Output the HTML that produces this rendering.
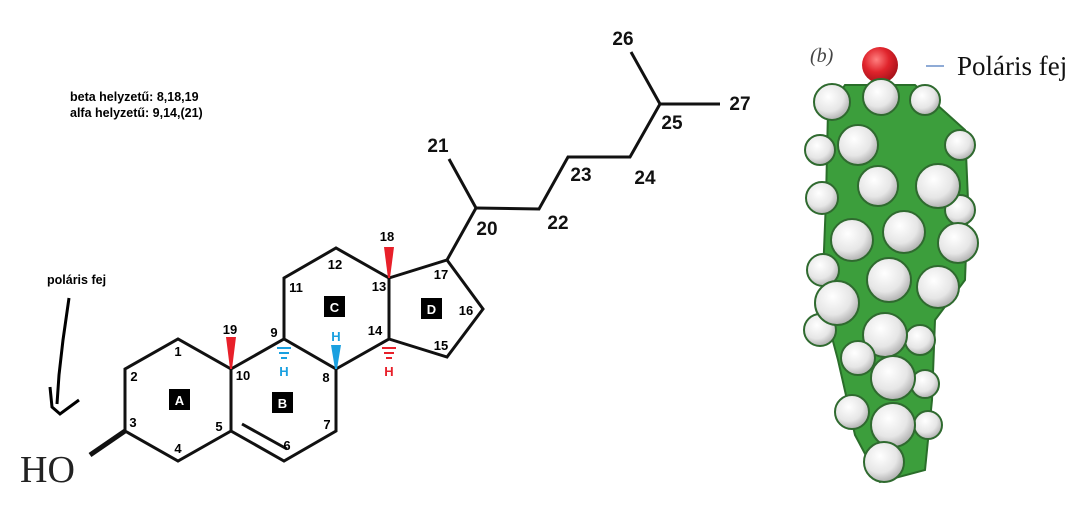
<!DOCTYPE html>
<html><head><meta charset="utf-8"><style>
html,body{margin:0;padding:0;background:#fff;width:1090px;height:506px;overflow:hidden}
svg{display:block}
.l{font-family:"Liberation Sans",sans-serif;font-weight:bold;font-size:13px;fill:#000}
.b{font-family:"Liberation Sans",sans-serif;font-weight:bold;font-size:19px;fill:#111}
</style></head><body>
<svg width="1090" height="506">
<defs>
<radialGradient id="hg" cx="0.4" cy="0.35" r="0.7"><stop offset="0" stop-color="#ffffff"/><stop offset="0.6" stop-color="#e6e6e6"/><stop offset="1" stop-color="#a8a8a8"/></radialGradient>
<radialGradient id="og" cx="0.4" cy="0.35" r="0.7"><stop offset="0" stop-color="#ff8080"/><stop offset="0.5" stop-color="#e0242c"/><stop offset="1" stop-color="#a01018"/></radialGradient>
</defs>
<g stroke="#111" stroke-width="3" fill="none" stroke-linejoin="miter">
<polyline points="231,431 178,461 125,431 125,369 178,339 231,369 231,431 284,461 336,431 336,369 284,339 231,369"/>
<polyline points="284,339 284,278 336,248 389,278 389,339 336,369"/>
<polyline points="389,278 447,260 483,309 447,357 389,339"/>
<line x1="242" y1="424" x2="287" y2="449"/>
<polyline points="447,260 476,208 449,159"/>
<polyline points="476,208 539,209 568,157 630,157 660,104 631,52"/>
<line x1="660" y1="104" x2="720" y2="104"/>
<line x1="90" y1="455" x2="125" y2="431" stroke-width="5"/>
</g>
<g>
<polygon points="226,337 236,337 232,369 230,369" fill="#e8202a"/>
<polygon points="384,247 394,247 390,278 388,278" fill="#e8202a"/>
<polygon points="331,345 341,345 337,369 335,369" fill="#1aa0e0"/>
<g stroke="#1aa0e0" stroke-width="2"><line x1="277" y1="348" x2="291" y2="348"/><line x1="279" y1="353" x2="289" y2="353"/><line x1="281" y1="358" x2="287" y2="358"/></g>
<g stroke="#e8202a" stroke-width="2"><line x1="382" y1="348" x2="396" y2="348"/><line x1="384" y1="353" x2="394" y2="353"/><line x1="386" y1="358" x2="392" y2="358"/></g>
<text x="284" y="376" text-anchor="middle" class="l" style="fill:#1aa0e0">H</text>
<text x="336" y="341" text-anchor="middle" class="l" style="fill:#1aa0e0">H</text>
<text x="389" y="376" text-anchor="middle" class="l" style="fill:#e8202a">H</text>
</g>
<g class="l">
<text x="178" y="356" text-anchor="middle">1</text><text x="134" y="381" text-anchor="middle">2</text>
<text x="133" y="427" text-anchor="middle">3</text><text x="178" y="453" text-anchor="middle">4</text>
<text x="219" y="431" text-anchor="middle">5</text><text x="287" y="450" text-anchor="middle">6</text>
<text x="327" y="429" text-anchor="middle">7</text><text x="326" y="382" text-anchor="middle">8</text>
<text x="274" y="337" text-anchor="middle">9</text><text x="243" y="380" text-anchor="middle">10</text>
<text x="296" y="292" text-anchor="middle">11</text><text x="335" y="269" text-anchor="middle">12</text>
<text x="379" y="291" text-anchor="middle">13</text><text x="375" y="335" text-anchor="middle">14</text>
<text x="441" y="350" text-anchor="middle">15</text><text x="466" y="315" text-anchor="middle">16</text>
<text x="441" y="279" text-anchor="middle">17</text><text x="387" y="241" text-anchor="middle">18</text>
<text x="230" y="334" text-anchor="middle">19</text>
</g>
<g class="b">
<text x="487" y="235" text-anchor="middle">20</text><text x="438" y="152" text-anchor="middle">21</text>
<text x="558" y="229" text-anchor="middle">22</text><text x="581" y="181" text-anchor="middle">23</text>
<text x="645" y="184" text-anchor="middle">24</text><text x="672" y="129" text-anchor="middle">25</text>
<text x="623" y="45" text-anchor="middle">26</text><text x="740" y="110" text-anchor="middle">27</text>
</g>
<g>
<rect x="169" y="389" width="21" height="21" fill="#000"/><text x="179.5" y="405" text-anchor="middle" class="l" style="fill:#fff">A</text>
<rect x="272" y="392" width="21" height="21" fill="#000"/><text x="282.5" y="408" text-anchor="middle" class="l" style="fill:#fff">B</text>
<rect x="324" y="296" width="21" height="21" fill="#000"/><text x="334.5" y="312" text-anchor="middle" class="l" style="fill:#fff">C</text>
<rect x="421" y="298" width="21" height="21" fill="#000"/><text x="431.5" y="314" text-anchor="middle" class="l" style="fill:#fff">D</text>
</g>
<text x="20" y="482" style="font-family:'Liberation Serif',serif;font-size:38px;fill:#222">HO</text>
<text x="70" y="101" class="l" style="font-size:12.5px">beta helyzetű: 8,18,19</text>
<text x="70" y="117" class="l" style="font-size:12.5px">alfa helyzetű: 9,14,(21)</text>
<text x="47" y="284" class="l" style="font-size:12.5px">poláris fej</text>
<path d="M69,298 L63,340 L59,375 L57,404 M50,387 L52,407 L60,414 L79,400" stroke="#000" stroke-width="3" fill="none"/>
<g>
<text x="810" y="62" style="font-family:'Liberation Serif',serif;font-style:italic;font-size:20px;fill:#444">(b)</text>
<line x1="926" y1="66" x2="944" y2="66" stroke="#6a8fc8" stroke-width="1.5"/>
<text x="957" y="75" style="font-family:'Liberation Serif',serif;font-size:27px;fill:#111">Poláris fej</text>
<path d="M845,85 L915,85 L965,130 L968,200 L965,280 L935,320 L932,400 L925,470 L880,482 L855,435 L838,360 L822,300 L826,200 L828,110 Z" fill="#3c9e3c" stroke="#2a6e2a" stroke-width="2"/>
<circle cx="880" cy="65" r="18" fill="url(#og)"/>
<g fill="url(#hg)" stroke="#2f6a2f" stroke-width="2">
<circle cx="832" cy="102" r="18"/><circle cx="925" cy="100" r="15"/><circle cx="881" cy="97" r="18"/>
<circle cx="820" cy="150" r="15"/><circle cx="960" cy="145" r="15"/><circle cx="858" cy="145" r="20"/>
<circle cx="960" cy="210" r="15"/><circle cx="822" cy="198" r="16"/><circle cx="878" cy="186" r="20"/><circle cx="938" cy="186" r="22"/>
<circle cx="823" cy="270" r="16"/><circle cx="958" cy="243" r="20"/><circle cx="852" cy="240" r="21"/><circle cx="904" cy="232" r="21"/>
<circle cx="820" cy="330" r="16"/><circle cx="920" cy="340" r="15"/><circle cx="889" cy="280" r="22"/><circle cx="938" cy="287" r="21"/>
<circle cx="837" cy="303" r="22"/><circle cx="885" cy="335" r="22"/>
<circle cx="858" cy="358" r="17"/><circle cx="925" cy="384" r="14"/><circle cx="893" cy="378" r="22"/>
<circle cx="852" cy="412" r="17"/><circle cx="928" cy="425" r="14"/><circle cx="893" cy="425" r="22"/>
<circle cx="884" cy="462" r="20"/>
</g>
</g>
</svg>
</body></html>
